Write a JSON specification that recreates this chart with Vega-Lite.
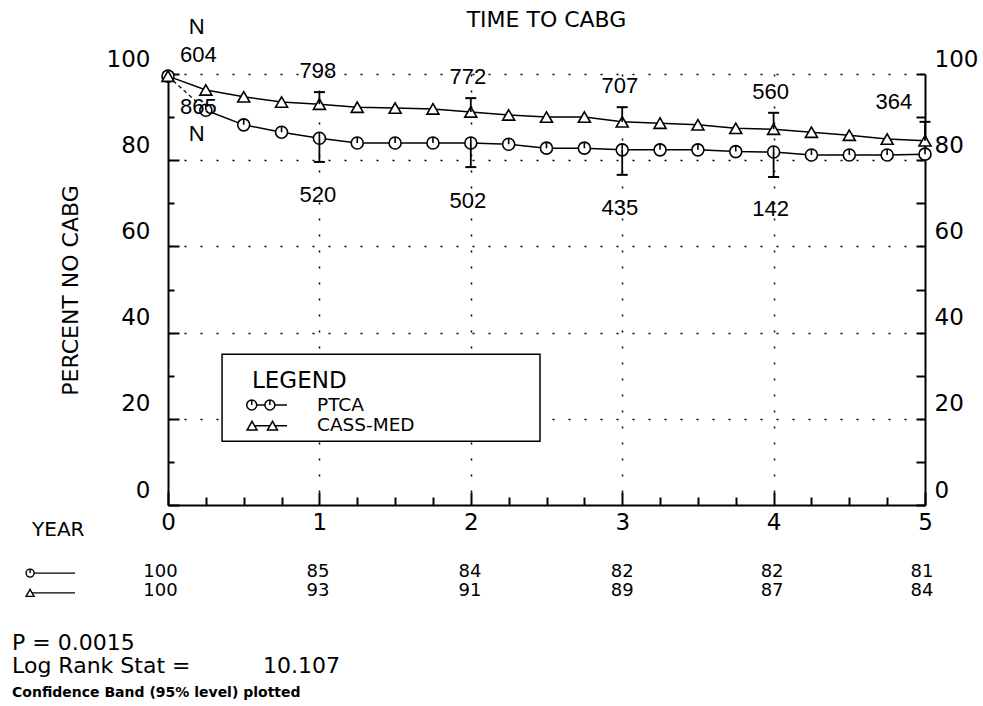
{
  "$schema": "https://vega.github.io/schema/vega-lite/v6.json",
  "width": 757,
  "height": 431,
  "autosize": {"type": "none"},
  "padding": {"left": 168, "top": 74, "right": 58, "bottom": 201},
  "background": "white",
  "config": {"view": {"stroke": null}, "font": "DejaVu Sans"},
  "datasets": {
    "curves": [
      {"group": "PTCA", "year": 0, "pct": 99.5},
      {"group": "PTCA", "year": 0.25, "pct": 91.6},
      {"group": "PTCA", "year": 0.5, "pct": 88.2},
      {"group": "PTCA", "year": 0.75, "pct": 86.5},
      {"group": "PTCA", "year": 1, "pct": 85.1},
      {"group": "PTCA", "year": 1.25, "pct": 84.0},
      {"group": "PTCA", "year": 1.5, "pct": 84.0},
      {"group": "PTCA", "year": 1.75, "pct": 84.0},
      {"group": "PTCA", "year": 2, "pct": 84.0},
      {"group": "PTCA", "year": 2.25, "pct": 83.7},
      {"group": "PTCA", "year": 2.5, "pct": 82.8},
      {"group": "PTCA", "year": 2.75, "pct": 82.8},
      {"group": "PTCA", "year": 3, "pct": 82.4},
      {"group": "PTCA", "year": 3.25, "pct": 82.4},
      {"group": "PTCA", "year": 3.5, "pct": 82.4},
      {"group": "PTCA", "year": 3.75, "pct": 82.0},
      {"group": "PTCA", "year": 4, "pct": 81.9},
      {"group": "PTCA", "year": 4.25, "pct": 81.2},
      {"group": "PTCA", "year": 4.5, "pct": 81.2},
      {"group": "PTCA", "year": 4.75, "pct": 81.2},
      {"group": "PTCA", "year": 5, "pct": 81.4},
      {"group": "CASS-MED", "year": 0, "pct": 99.5},
      {"group": "CASS-MED", "year": 0.25, "pct": 96.3},
      {"group": "CASS-MED", "year": 0.5, "pct": 94.7},
      {"group": "CASS-MED", "year": 0.75, "pct": 93.5},
      {"group": "CASS-MED", "year": 1, "pct": 93.0},
      {"group": "CASS-MED", "year": 1.25, "pct": 92.3},
      {"group": "CASS-MED", "year": 1.5, "pct": 92.1},
      {"group": "CASS-MED", "year": 1.75, "pct": 91.9},
      {"group": "CASS-MED", "year": 2, "pct": 91.2},
      {"group": "CASS-MED", "year": 2.25, "pct": 90.5},
      {"group": "CASS-MED", "year": 2.5, "pct": 90.0},
      {"group": "CASS-MED", "year": 2.75, "pct": 90.0},
      {"group": "CASS-MED", "year": 3, "pct": 88.9},
      {"group": "CASS-MED", "year": 3.25, "pct": 88.6},
      {"group": "CASS-MED", "year": 3.5, "pct": 88.2},
      {"group": "CASS-MED", "year": 3.75, "pct": 87.4},
      {"group": "CASS-MED", "year": 4, "pct": 87.2},
      {"group": "CASS-MED", "year": 4.25, "pct": 86.5},
      {"group": "CASS-MED", "year": 4.5, "pct": 85.8},
      {"group": "CASS-MED", "year": 4.75, "pct": 84.9},
      {"group": "CASS-MED", "year": 5, "pct": 84.5}
    ],
    "errs": [
      {"group": "PTCA", "year": 1, "pct": 85.1, "bound": 79.6},
      {"group": "PTCA", "year": 2, "pct": 84.0, "bound": 78.4},
      {"group": "PTCA", "year": 3, "pct": 82.4, "bound": 76.6},
      {"group": "PTCA", "year": 4, "pct": 81.9, "bound": 76.1},
      {"group": "CASS-MED", "year": 1, "pct": 93.0, "bound": 95.8},
      {"group": "CASS-MED", "year": 2, "pct": 91.2, "bound": 94.4},
      {"group": "CASS-MED", "year": 3, "pct": 88.9, "bound": 92.3},
      {"group": "CASS-MED", "year": 4, "pct": 87.2, "bound": 91.0},
      {"group": "CASS-MED", "year": 5, "pct": 84.5, "bound": 88.9}
    ],
    "dash": [{"year": 0, "pct": 99.5, "year2": 0.25, "pct2": 91.6}],
    "nlabels": [
      {"year": 0.19, "pct": 110.9, "label": "N"},
      {"year": 0.2, "pct": 104.5, "label": "604"},
      {"year": 0.99, "pct": 100.7, "label": "798"},
      {"year": 1.98, "pct": 99.2, "label": "772"},
      {"year": 2.985, "pct": 97.3, "label": "707"},
      {"year": 3.98, "pct": 95.9, "label": "560"},
      {"year": 4.795, "pct": 93.6, "label": "364"},
      {"year": 0.2, "pct": 92.3, "label": "865"},
      {"year": 0.19, "pct": 86.1, "label": "N"},
      {"year": 0.99, "pct": 71.9, "label": "520"},
      {"year": 1.98, "pct": 70.6, "label": "502"},
      {"year": 2.985, "pct": 69.0, "label": "435"},
      {"year": 3.98, "pct": 68.6, "label": "142"}
    ],
    "tvals": [
      {"year": -0.05, "pct": -15.5, "label": "100"},
      {"year": 0.99, "pct": -15.5, "label": "85"},
      {"year": 1.995, "pct": -15.5, "label": "84"},
      {"year": 3.0, "pct": -15.5, "label": "82"},
      {"year": 3.99, "pct": -15.5, "label": "82"},
      {"year": 4.98, "pct": -15.5, "label": "81"},
      {"year": -0.05, "pct": -20.0, "label": "100"},
      {"year": 0.99, "pct": -20.0, "label": "93"},
      {"year": 1.995, "pct": -20.0, "label": "91"},
      {"year": 3.0, "pct": -20.0, "label": "89"},
      {"year": 3.99, "pct": -20.0, "label": "87"},
      {"year": 4.98, "pct": -20.0, "label": "84"}
    ],
    "tsym": [
      {"group": "PTCA", "year": -0.911, "pct": -15.8, "year2": -0.614},
      {"group": "CASS-MED", "year": -0.911, "pct": -20.4, "year2": -0.614}
    ],
    "legbox": [{"year": 0.357, "year2": 2.457, "pct": 35.0, "pct2": 14.8}],
    "legsym": [
      {"group": "PTCA", "year": 0.553, "pct": 23.2},
      {"group": "PTCA", "year": 0.673, "pct": 23.2},
      {"group": "CASS-MED", "year": 0.555, "pct": 18.4},
      {"group": "CASS-MED", "year": 0.69, "pct": 18.4}
    ],
    "leglines": [
      {"group": "PTCA", "year": 0.553, "year2": 0.786, "pct": 23.2},
      {"group": "CASS-MED", "year": 0.555, "year2": 0.786, "pct": 18.4}
    ],
    "legtext": [
      {"year": 0.984, "pct": 23.3, "label": "PTCA"},
      {"year": 0.984, "pct": 18.5, "label": "CASS-MED"}
    ],
    "legtitle": [{"year": 0.555, "pct": 28.8, "label": "LEGEND"}],
    "title": [{"year": 2.5, "pct": 112.5, "label": "TIME TO CABG"}],
    "yearlab": [{"year": -0.898, "pct": -5.9, "label": "YEAR"}],
    "stats": [
      {"year": -1.03, "pct": -33.6, "label": "P = 0.0015"},
      {"year": -1.03, "pct": -39.0, "label": "Log Rank Stat ="},
      {"year": 0.627, "pct": -39.0, "label": "10.107"}
    ],
    "note": [{"year": -1.03, "pct": -44.5, "label": "Confidence Band (95% level) plotted"}]
  },
  "encoding": {
    "x": {
      "field": "year",
      "type": "quantitative",
      "scale": {"domain": [0, 5], "nice": false, "zero": false},
      "axis": {
        "values": [0, 0.25, 0.5, 0.75, 1, 1.25, 1.5, 1.75, 2, 2.25, 2.5, 2.75, 3, 3.25, 3.5, 3.75, 4, 4.25, 4.5, 4.75, 5],
        "labelExpr": "datum.value % 1 === 0 ? '' + datum.value : ''",
        "tickSize": {"expr": "datum.value % 1 === 0 ? -13 : -8"},
        "labelPadding": 19,
        "labelBaseline": "top",
        "labelFont": "DejaVu Sans",
        "labelFontSize": 23,
        "labelColor": "black",
        "labelFlush": false,
        "labelOverlap": false,
        "domainColor": "black",
        "domainWidth": 2,
        "tickColor": "black",
        "tickWidth": 2,
        "grid": true,
        "gridColor": "black",
        "gridDash": [2, 14],
        "gridWidth": 1.5,
        "gridOpacity": {"expr": "datum.value % 1 === 0 && datum.value > 0 && datum.value < 5 ? 1 : 0"},
        "title": null
      }
    },
    "y": {
      "field": "pct",
      "type": "quantitative",
      "scale": {"domain": [0, 100], "nice": false},
      "axis": null
    }
  },
  "resolve": {"axis": {"y": "independent"}},
  "layer": [
    {
      "data": {"name": "legbox"},
      "mark": {"type": "rect", "fill": "white", "stroke": "black", "strokeWidth": 1.5},
      "encoding": {"x2": {"field": "year2"}, "y2": {"field": "pct2"}}
    },
    {
      "data": {"name": "curves"},
      "transform": [{"filter": "datum.group !== 'PTCA' || datum.year >= 0.25"}],
      "mark": {"type": "line", "color": "black", "strokeWidth": 1.5},
      "encoding": {
        "detail": {"field": "group"},
        "y": {
          "field": "pct",
          "type": "quantitative",
          "scale": {"domain": [0, 100], "nice": false},
          "axis": {
            "orient": "left",
            "values": [0, 10, 20, 30, 40, 50, 60, 70, 80, 90, 100],
            "labelExpr": "datum.value % 20 === 0 ? '' + datum.value : ''",
            "tickSize": {"expr": "datum.value % 20 === 0 ? -11 : -6"},
            "labelPadding": 29,
            "labelOffset": -15,
            "labelBaseline": "middle",
            "labelFont": "DejaVu Sans",
            "labelFontSize": 23,
            "labelColor": "black",
            "labelFlush": false,
            "labelOverlap": false,
            "domainColor": "black",
            "domainWidth": 2,
            "tickColor": "black",
            "tickWidth": 2,
            "grid": true,
            "gridColor": "black",
            "gridDash": [2, 14],
            "gridWidth": 1.5,
            "gridOpacity": {"expr": "datum.value % 20 === 0 && datum.value > 0 ? 1 : 0"},
            "title": "PERCENT NO CABG",
            "titleFont": "DejaVu Sans",
            "titleFontSize": 22,
            "titleFontWeight": "normal",
            "titleColor": "black",
            "titleX": -98,
            "titleY": 216,
            "titleAngle": 270,
            "titleAlign": "center",
            "titleBaseline": "middle"
          }
        }
      }
    },
    {
      "data": {"name": "dash"},
      "mark": {"type": "rule", "color": "black", "strokeWidth": 1.2, "strokeDash": [4, 3]},
      "encoding": {"x2": {"field": "year2"}, "y2": {"field": "pct2"}}
    },
    {
      "data": {"name": "curves"},
      "mark": {"type": "point", "filled": true, "fill": "white", "stroke": "black", "strokeWidth": 1.6, "size": 144, "opacity": 1},
      "encoding": {
        "shape": {
          "field": "group",
          "type": "nominal",
          "scale": {"domain": ["PTCA", "CASS-MED"], "range": ["M-1,0A1,1,0,1,1,1,0A1,1,0,1,1,-1,0ZM0,0L0,-1", "triangle-up"]},
          "legend": null
        }
      }
    },
    {
      "data": {"name": "errs"},
      "mark": {"type": "rule", "color": "black", "strokeWidth": 1.8},
      "encoding": {
        "y": {
          "field": "pct",
          "type": "quantitative",
          "scale": {"domain": [0, 100], "nice": false},
          "axis": {
            "orient": "right",
            "values": [0, 10, 20, 30, 40, 50, 60, 70, 80, 90, 100],
            "labelExpr": "datum.value % 20 === 0 ? '' + datum.value : ''",
            "tickSize": -9,
            "labelPadding": 18,
            "labelOffset": -15,
            "labelBaseline": "middle",
            "labelFont": "DejaVu Sans",
            "labelFontSize": 23,
            "labelColor": "black",
            "labelFlush": false,
            "labelOverlap": false,
            "domainColor": "black",
            "domainWidth": 2,
            "tickColor": "black",
            "tickWidth": 2,
            "grid": false,
            "title": null
          }
        },
        "y2": {"field": "bound"}
      }
    },
    {
      "data": {"name": "errs"},
      "mark": {"type": "tick", "orient": "horizontal", "size": 11, "thickness": 2, "color": "black", "opacity": 1},
      "encoding": {"y": {"field": "bound", "type": "quantitative", "scale": {"domain": [0, 100], "nice": false}}}
    },
    {
      "data": {"name": "nlabels"},
      "mark": {"type": "text", "font": "Liberation Sans", "fontSize": 22, "align": "center", "baseline": "middle", "color": "black"},
      "encoding": {"text": {"field": "label"}}
    },
    {
      "data": {"name": "title"},
      "mark": {"type": "text", "font": "DejaVu Sans", "fontSize": 22, "align": "center", "baseline": "middle", "color": "black"},
      "encoding": {"text": {"field": "label"}}
    },
    {
      "data": {"name": "tsym"},
      "mark": {"type": "rule", "color": "black", "strokeWidth": 1.3},
      "encoding": {"x2": {"field": "year2"}}
    },
    {
      "data": {"name": "tsym"},
      "mark": {"type": "point", "filled": true, "fill": "white", "stroke": "black", "strokeWidth": 1.4, "size": 64, "opacity": 1},
      "encoding": {
        "shape": {
          "field": "group",
          "type": "nominal",
          "scale": {"domain": ["PTCA", "CASS-MED"], "range": ["M-1,0A1,1,0,1,1,1,0A1,1,0,1,1,-1,0ZM0,0L0,-1", "triangle-up"]},
          "legend": null
        }
      }
    },
    {
      "data": {"name": "tvals"},
      "mark": {"type": "text", "font": "DejaVu Sans", "fontSize": 18, "align": "center", "baseline": "middle", "color": "black"},
      "encoding": {"text": {"field": "label"}}
    },
    {
      "data": {"name": "yearlab"},
      "mark": {"type": "text", "font": "DejaVu Sans", "fontSize": 20, "align": "left", "baseline": "middle", "color": "black"},
      "encoding": {"text": {"field": "label"}}
    },
    {
      "data": {"name": "stats"},
      "mark": {"type": "text", "font": "DejaVu Sans", "fontSize": 22, "align": "left", "baseline": "alphabetic", "color": "black"},
      "encoding": {"text": {"field": "label"}}
    },
    {
      "data": {"name": "note"},
      "mark": {"type": "text", "font": "DejaVu Sans", "fontSize": 14, "fontWeight": "bold", "align": "left", "baseline": "alphabetic", "color": "black"},
      "encoding": {"text": {"field": "label"}}
    },
    {
      "data": {"name": "leglines"},
      "mark": {"type": "rule", "color": "black", "strokeWidth": 1.4},
      "encoding": {"x2": {"field": "year2"}}
    },
    {
      "data": {"name": "legsym"},
      "mark": {"type": "point", "filled": true, "fill": "white", "stroke": "black", "strokeWidth": 1.5, "size": 100, "opacity": 1},
      "encoding": {
        "shape": {
          "field": "group",
          "type": "nominal",
          "scale": {"domain": ["PTCA", "CASS-MED"], "range": ["M-1,0A1,1,0,1,1,1,0A1,1,0,1,1,-1,0ZM0,0L0,-1", "triangle-up"]},
          "legend": null
        }
      }
    },
    {
      "data": {"name": "legtitle"},
      "mark": {"type": "text", "font": "DejaVu Sans", "fontSize": 23, "align": "left", "baseline": "middle", "color": "black"},
      "encoding": {"text": {"field": "label"}}
    },
    {
      "data": {"name": "legtext"},
      "mark": {"type": "text", "font": "DejaVu Sans", "fontSize": 18.5, "align": "left", "baseline": "middle", "color": "black"},
      "encoding": {"text": {"field": "label"}}
    }
  ]
}
